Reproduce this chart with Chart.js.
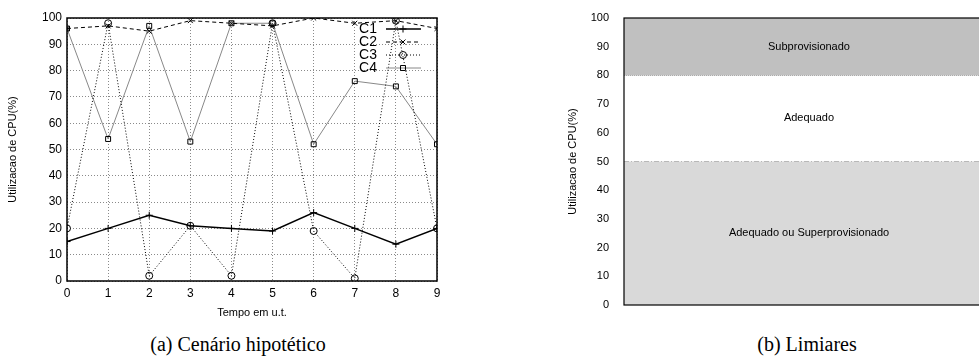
<!DOCTYPE html>
<html>
<head>
<meta charset="utf-8">
<script src="https://cdn.jsdelivr.net/npm/chart.js@4/dist/chart.umd.min.js"></script>
<style>
  html, body { margin: 0; padding: 0; background: #fff; overflow: hidden; }
  body { width: 979px; height: 363px; position: relative; }
  #lineChart { position: absolute; left: 0; top: 0; }
  #thresholdChart { position: absolute; left: 560px; top: 0; }
  .caption { position: absolute; top: 333px; font-family: "Liberation Serif", "DejaVu Serif", serif; font-size: 20px; color: #000; transform: translateX(-50%); white-space: nowrap; }
</style>
</head>
<body>
<canvas id="lineChart" width="460" height="320"></canvas>
<canvas id="thresholdChart" width="440" height="320"></canvas>
<div class="caption" style="left: 238px;">(a) Cenário hipotético</div>
<div class="caption" style="left: 807px;">(b) Limiares</div>
<script>
// (a) values
const times = [0, 1, 2, 3, 4, 5, 6, 7, 8, 9];
const seriesNames = ['C1', 'C2', 'C3', 'C4'];
const c1 = [15, 20, 25, 21, 20, 19, 26, 20, 14, 20];
const c2 = [96, 97, 95, 99, 98, 97, 100, 98, 99, 96];
const c3 = [20, 98, 2, 21, 2, 98, 19, 1, 99, 20];
const c4 = [96, 54, 97, 53, 98, 98, 52, 76, 74, 52];
const yTicks = [0, 10, 20, 30, 40, 50, 60, 70, 80, 90, 100];

// (b) threshold bands
const bandNames = ['Adequado ou Superprovisionado', 'Adequado', 'Subprovisionado'];
const bandLower = [0, 50, 80];
const bandUpper = [50, 80, 100];

const font = '"Liberation Sans", Arial, sans-serif';

const lineStyles = [
    { borderColor: '#000', borderWidth: 1.5, borderDash: [], pointStyle: 'cross' },
    { borderColor: '#000', borderWidth: 1, borderDash: [4, 3], pointStyle: 'crossRot' },
    { borderColor: '#000', borderWidth: 1, borderDash: [1, 2], pointStyle: 'circle' },
    { borderColor: '#888', borderWidth: 1, borderDash: [], pointStyle: 'rect' },
];

function toPoints(values) {
    return values.map((v, i) => ({ x: times[i], y: v }));
}

// draws a full box around the plot area
const frame = {
    id: 'frame',
    afterDraw(chart, args, opts) {
        const { ctx, chartArea: a } = chart;
        ctx.save();
        ctx.strokeStyle = '#000';
        ctx.lineWidth = opts.width || 1.5;
        ctx.strokeRect(a.left, a.top, a.right - a.left, a.bottom - a.top);
        ctx.restore();
    }
};

// gnuplot-like key inside the plot, top right
const innerLegend = {
    id: 'innerLegend',
    afterDatasetsDraw(chart) {
        const { ctx } = chart;
        ctx.save();
        chart.data.datasets.forEach((ds, i) => {
            const y = 29 + i * 13;
            ctx.fillStyle = '#000';
            ctx.font = '14px ' + font;
            ctx.textAlign = 'right';
            ctx.textBaseline = 'middle';
            ctx.fillText(ds.label, 377, y);
            ctx.strokeStyle = ds.borderColor;
            ctx.lineWidth = ds.borderWidth;
            ctx.setLineDash(ds.borderDash);
            ctx.beginPath();
            ctx.moveTo(386, y);
            ctx.lineTo(421, y);
            ctx.stroke();
            ctx.setLineDash([]);
            ctx.strokeStyle = '#000';
            ctx.fillStyle = 'rgba(0,0,0,0)';
            ctx.lineWidth = 1;
            Chart.helpers.drawPoint(ctx, {
                pointStyle: ds.pointStyle, radius: ds.pointRadius, rotation: 0, borderWidth: 1
            }, 403, y);
        });
        ctx.restore();
    }
};

const lineChart = new Chart(document.getElementById('lineChart').getContext('2d'), {
    type: 'line',
    data: {
        datasets: seriesNames.map((name, i) => ({
            label: name,
            data: toPoints([c1, c2, c3, c4][i]),
            fill: false,
            tension: 0,
            borderColor: lineStyles[i].borderColor,
            borderWidth: lineStyles[i].borderWidth,
            borderDash: lineStyles[i].borderDash,
            pointStyle: lineStyles[i].pointStyle,
            pointRadius: 3.5,
            pointBorderColor: '#000',
            pointBorderWidth: 1,
            pointBackgroundColor: 'rgba(0,0,0,0)',
        })),
    },
    options: {
        responsive: false,
        animation: false,
        layout: { padding: { top: 18, right: 23, left: 0, bottom: 0 } },
        plugins: {
            legend: { display: false },
            tooltip: { enabled: false },
            frame: { width: 1.5 },
        },
        scales: {
            x: {
                type: 'linear',
                min: 0,
                max: 9,
                ticks: { stepSize: 1, color: '#000', font: { family: font, size: 12 }, padding: 5 },
                grid: { color: '#8a8a8a', lineWidth: 1, drawTicks: false },
                border: { display: false, dash: [1, 2] },
                title: { display: true, text: 'Tempo em u.t.', color: '#000', font: { family: font, size: 11 }, padding: { top: 3, bottom: 0 } },
                afterFit: (s) => { s.height = 39; },
            },
            y: {
                min: 0,
                max: 100,
                afterBuildTicks: (s) => { s.ticks = yTicks.map(v => ({ value: v })); },
                ticks: { color: '#000', font: { family: font, size: 12 }, padding: 5 },
                grid: { color: '#8a8a8a', lineWidth: 1, drawTicks: false },
                border: { display: false, dash: [1, 2] },
                title: { display: true, text: 'Utilizacao de CPU(%)', color: '#000', font: { family: font, size: 11 }, padding: { top: 6, bottom: 0 } },
                afterFit: (s) => { s.width = 67; },
            },
        },
    },
    plugins: [frame, innerLegend],
});

// band captions placed at the middle of each band
const bandText = {
    id: 'bandText',
    afterDatasetsDraw(chart) {
        const { ctx, chartArea: a, scales } = chart;
        ctx.save();
        ctx.fillStyle = '#000';
        ctx.font = '11px ' + font;
        ctx.textAlign = 'center';
        ctx.textBaseline = 'middle';
        bandNames.forEach((name, i) => {
            const y = scales.y.getPixelForValue((bandLower[i] + bandUpper[i]) / 2);
            ctx.fillText(name, (a.left + a.right) / 2, y);
        });
        ctx.restore();
    }
};

function flat(v) {
    return [{ x: 0, y: v }, { x: 1, y: v }];
}

const thresholdChart = new Chart(document.getElementById('thresholdChart').getContext('2d'), {
    type: 'line',
    data: {
        datasets: [
            {
                label: bandNames[0],
                data: flat(bandUpper[0]),
                fill: { value: bandLower[0] },
                backgroundColor: '#d9d9d9',
                borderColor: '#b8b8b8',
                borderWidth: 1,
                borderDash: [5, 2, 1, 2],
                pointRadius: 0,
            },
            {
                label: bandNames[2],
                data: flat(bandUpper[2]),
                fill: { value: bandLower[2] },
                backgroundColor: '#c0c0c0',
                borderWidth: 0,
                pointRadius: 0,
            },
            {
                label: bandNames[1],
                data: flat(bandLower[2]),
                fill: false,
                borderColor: '#8c8c8c',
                borderWidth: 1,
                borderDash: [1, 1],
                pointRadius: 0,
            },
        ],
    },
    options: {
        responsive: false,
        animation: false,
        layout: { padding: { top: 18, right: 6, left: 0, bottom: 0 } },
        plugins: {
            legend: { display: false },
            tooltip: { enabled: false },
            frame: { width: 1.2 },
        },
        scales: {
            x: {
                type: 'linear',
                min: 0,
                max: 1,
                ticks: { display: false },
                grid: { display: false },
                border: { display: false },
                afterFit: (s) => { s.height = 15; },
            },
            y: {
                min: 0,
                max: 100,
                afterBuildTicks: (s) => { s.ticks = yTicks.map(v => ({ value: v })); },
                ticks: { color: '#000', font: { family: font, size: 11 }, padding: 7 },
                grid: { display: false, drawTicks: true },
                border: { display: false },
                title: { display: true, text: 'Utilizacao de CPU(%)', color: '#000', font: { family: font, size: 11 }, padding: { top: 6, bottom: 0 } },
                afterFit: (s) => { s.width = 64; },
            },
        },
    },
    plugins: [frame, bandText],
});
</script>
</body>
</html>
